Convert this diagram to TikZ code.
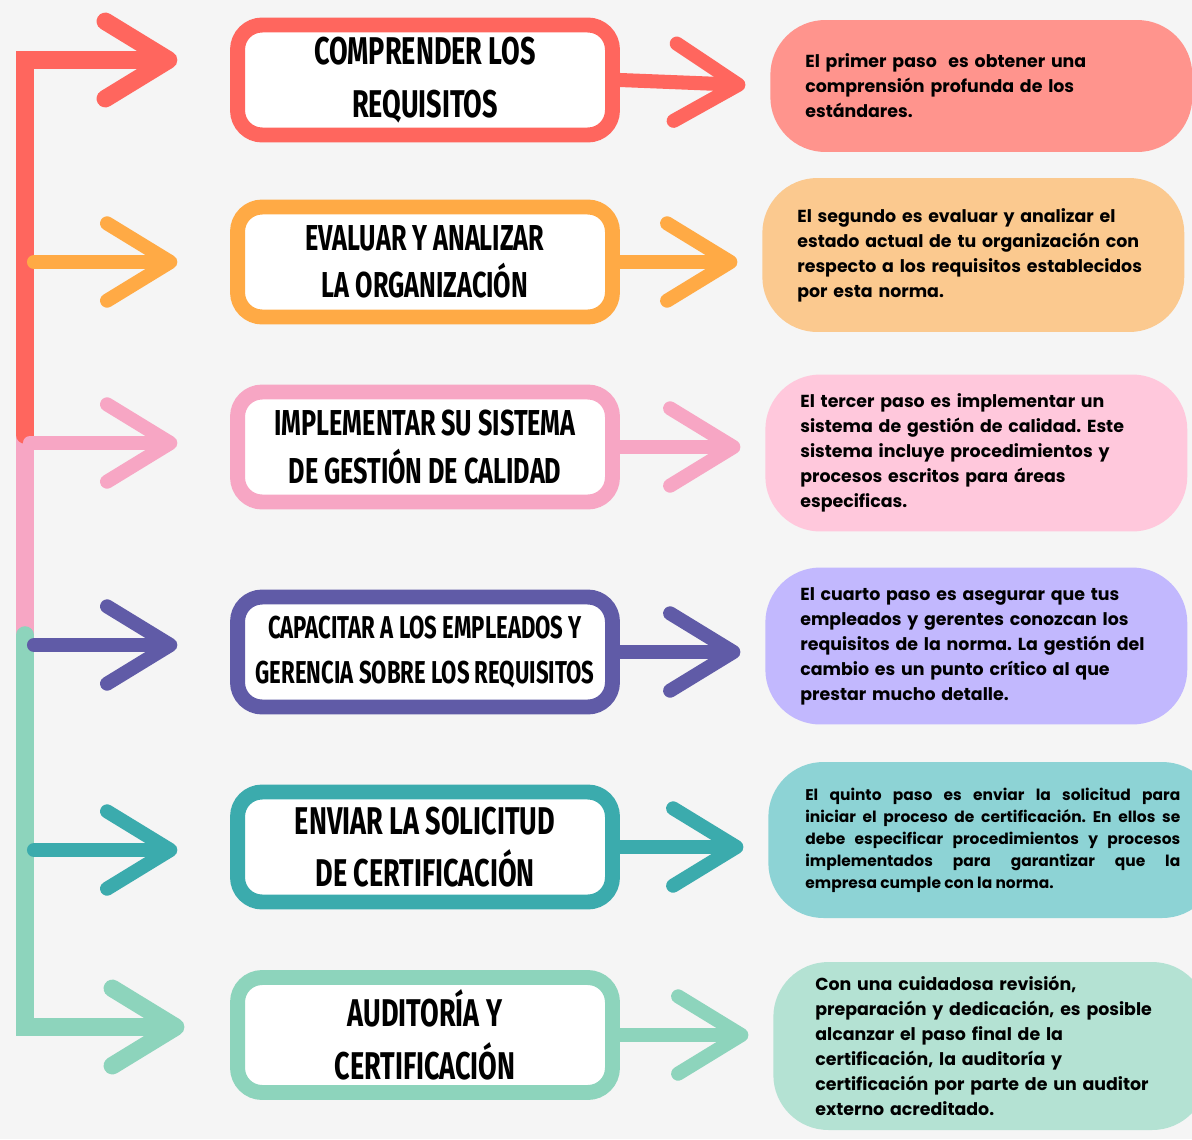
\documentclass[tikz,border=0pt]{standalone}
\usepackage{fontspec}
\setmainfont{Poppins}
\newfontfamily\headfont[FakeStretch=0.7]{Fira Sans}
\usetikzlibrary{arrows.meta}
\frenchspacing

\definecolor{paper}{HTML}{F5F5F5}
\definecolor{redline}{HTML}{FF665E}
\definecolor{orangeline}{HTML}{FFAA45}
\definecolor{pinkline}{HTML}{F7A6C4}
\definecolor{purpleline}{HTML}{605BA7}
\definecolor{tealline}{HTML}{3BABAD}
\definecolor{mintline}{HTML}{8DD4BC}
\definecolor{redfill}{HTML}{FF948D}
\definecolor{orangefill}{HTML}{FBC98F}
\definecolor{pinkfill}{HTML}{FFC8DC}
\definecolor{purplefill}{HTML}{C2B8FE}
\definecolor{tealfill}{HTML}{8DD3D5}
\definecolor{mintfill}{HTML}{B4E2D3}

\tikzset{
  stepbox/.style={draw=#1, line width=8.5pt, fill=white, rounded corners=14pt,
    minimum width=7.5cm, minimum height=2.2cm, align=center, inner sep=0pt,
    font=\headfont\bfseries\fontsize{22}{30}\selectfont},
  blob/.style={fill=#1, rounded corners=1.1cm, text width=7.04cm, inner xsep=0.7cm,
    align=left, font=\bfseries\fontsize{9.9}{14.2}\selectfont},
  arr/.style={draw=#1, line width=8pt, line cap=round, line join=miter,
    -{Straight Barb[length=36pt,width=44pt,round]}},
  trunk/.style={draw=#1, line width=10pt}
}

\begin{document}
\begin{tikzpicture}[x=0.02cm,y=-0.02cm]
  \fill[paper] (0,0) rectangle (1192,1139);
  \useasboundingbox (0,0) rectangle (1192,1139);

  % step boxes
  \node[stepbox=redline] (b1) at (425,80) {COMPRENDER LOS\\REQUISITOS};
  \node[stepbox=orangeline, font=\headfont\bfseries\fontsize{20.5}{27}\selectfont]
    (b2) at (425,262) {EVALUAR Y ANALIZAR\\LA ORGANIZACIÓN};
  \node[stepbox=pinkline, font=\headfont\bfseries\fontsize{20.5}{27}\selectfont]
    (b3) at (425,447) {IMPLEMENTAR SU SISTEMA\\DE GESTIÓN DE CALIDAD};
  \node[stepbox=purpleline, font=\headfont\bfseries\fontsize{18}{25.5}\selectfont]
    (b4) at (425,652) {CAPACITAR A LOS EMPLEADOS Y\\GERENCIA SOBRE LOS REQUISITOS};
  \node[stepbox=tealline] (b5) at (425,847) {ENVIAR LA SOLICITUD\\DE CERTIFICACIÓN};
  \node[stepbox=mintline, minimum height=2.3cm] (b6) at (425,1035) {AUDITORÍA Y\\CERTIFICACIÓN};

  % descriptions
  \node[blob=redfill, minimum height=2.64cm, anchor=west] (d1) at (770,86)
    {El primer paso\ \ es obtener una\\comprensión profunda de los\\estándares.};
  \node[blob=orangefill, minimum height=3.08cm, anchor=west] (d2) at (762,255)
    {El segundo es evaluar y analizar el\\estado actual de tu organización con\\respecto a los requisitos establecidos\\por esta norma.};
  \node[blob=pinkfill, minimum height=3.14cm, anchor=west] (d3) at (765,453)
    {El tercer paso es implementar un\\sistema de gestión de calidad. Este\\sistema incluye procedimientos y\\procesos escritos para áreas\\especificas.};
  \node[blob=purplefill, minimum height=3.14cm, anchor=west] (d4) at (765,646)
    {El cuarto paso es asegurar que tus\\empleados y gerentes conozcan los\\requisitos de la norma. La gestión del\\cambio es un punto crítico al que\\prestar mucho detalle.};
  \node[blob=tealfill, minimum height=3.12cm, anchor=west, align=justify,
    inner xsep=0.74cm, text width=7.5cm, font=\bfseries\fontsize{8.8}{12.5}\selectfont]
    (d5) at (768,840)
    {El quinto paso es enviar la solicitud para\linebreak iniciar el proceso de certificación. En ellos se\linebreak debe especificar procedimientos y procesos\linebreak implementados para garantizar que la\linebreak empresa cumple con la norma.};
  \node[blob=mintfill, minimum height=3.36cm, anchor=west, inner xsep=0.84cm,
    text width=7.0cm] (d6) at (773,1046)
    {Con una cuidadosa revisión,\\preparación y dedicación, es posible\\alcanzar el paso final de la\\certificación, la auditoría y\\certificación por parte de un auditor\\externo acreditado.};

  % trunk
  \coordinate (k1) at (25,60);
  \coordinate (k3) at (25,435);
  \coordinate (k4) at (25,635);
  \coordinate (k6) at (25,1027);
  \draw[trunk=pinkline] (k3) -- (k4);
  \draw[arr=redline, line width=10pt, shorten >=30pt] (k3) -- (k1) -- (k1 -| b1.west);
  \draw[arr=mintline, line width=10pt, shorten >=26pt] (k4) -- (k6) -- (k6 -| b6.west);

  % left arrows
  \draw[arr=orangeline, shorten >=30pt] (34,262) -- (b2.west);
  \draw[arr=pinkline, shorten >=30pt] (30,443) -- (b3.west |- 0,443);
  \draw[arr=purpleline, shorten >=30pt] (34,645) -- (b4.west |- 0,645);
  \draw[arr=tealline, shorten >=30pt] (34,850) -- (b5.west |- 0,850);

  % right arrows
  \draw[arr=redline, shorten >=14pt] (b1.east) -- (d1.west);
  \draw[arr=orangeline, shorten >=14pt] (b2.east) -- (d2.west |- b2.east);
  \draw[arr=pinkline, shorten >=14pt] (b3.east) -- (d3.west |- b3.east);
  \draw[arr=purpleline, shorten >=14pt] (b4.east) -- (d4.west |- b4.east);
  \draw[arr=tealline, shorten >=14pt] (b5.east) -- (d5.west |- b5.east);
  \draw[arr=mintline, shorten >=14pt] (b6.east) -- (d6.west |- b6.east);
\end{tikzpicture}
\end{document}
